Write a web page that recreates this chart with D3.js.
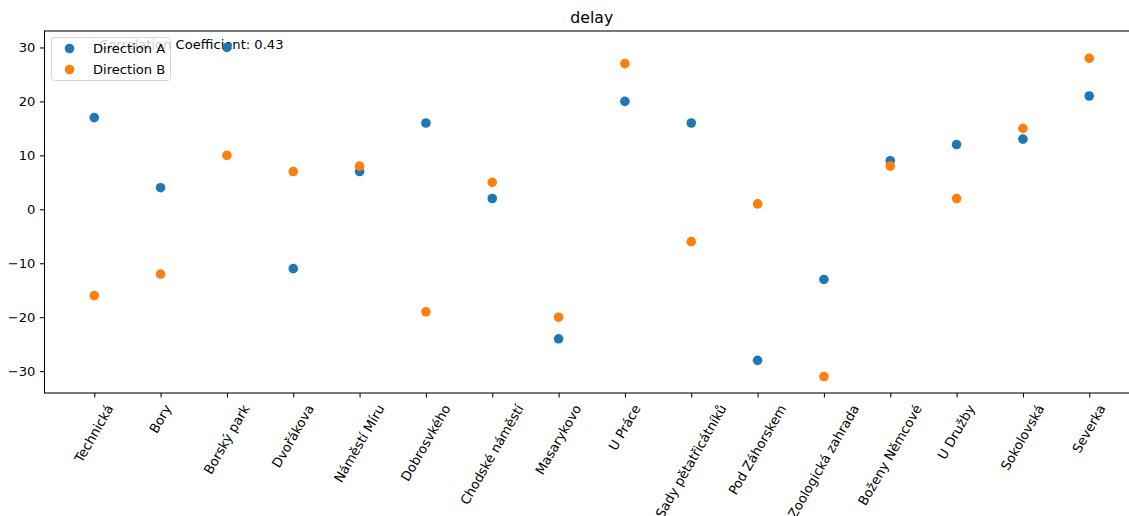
<!DOCTYPE html>
<html>
<head>
<meta charset="utf-8">
<script src="https://cdn.jsdelivr.net/npm/d3@7"></script>
<style>
  html, body { margin: 0; padding: 0; background: #fff; }
  svg { display: block; font-family: "DejaVu Sans", sans-serif; }
</style>
</head>
<body>
<svg id="chart" width="1129" height="516"></svg>
<script>
// Stops along the line
const stops = ["Technická", "Bory", "Borský park", "Dvořákova", "Náměstí Míru", "Dobrosvkého",
  "Chodské náměstí", "Masarykovo", "U Práce", "Sady pětatřicátníků", "Pod Záhorskem",
  "Zoologická zahrada", "Boženy Němcové", "U Družby", "Sokolovská", "Severka"];

// Delay per stop for each direction
const delayA = [17, 4, 30, -11, 7, 16, 2, -24, 20, 16, -28, -13, 9, 12, 13, 21];
const delayB = [-16, -12, 10, 7, 8, -19, 5, -20, 27, -6, 1, -31, 8, 2, 15, 28];

const yTicks = [-30, -20, -10, 0, 10, 20, 30];
const correlation = 0.43;

const series = [
  { name: "Direction A", values: delayA, color: "#1f77b4" },
  { name: "Direction B", values: delayB, color: "#ff7f0e" }
];

const svg = d3.select("#chart");
const plot = { left: 44.5, right: 1139, top: 31, bottom: 393 };

// 5% margins around the data, as in the usual autoscaling
const allVals = delayA.concat(delayB);
const yMin = d3.min(allVals), yMax = d3.max(allVals);
const yPad = (yMax - yMin) * 0.05;
const xPad = (stops.length - 1) * 0.05;

const x = d3.scaleLinear().domain([-xPad, stops.length - 1 + xPad]).range([plot.left, plot.right]);
const y = d3.scaleLinear().domain([yMin - yPad, yMax + yPad]).range([plot.bottom, plot.top]);

const fontSize = 13.1;
const tickLen = 4.6;

// Y axis
const yAxis = svg.append("g")
  .attr("transform", `translate(${plot.left},0)`)
  .call(d3.axisLeft(y).tickValues(yTicks).tickSize(tickLen).tickPadding(4.6)
    .tickFormat(d => d < 0 ? "\u2212" + Math.abs(d) : d));
yAxis.select(".domain").remove();
yAxis.selectAll("line").attr("stroke", "#000").attr("stroke-width", 1.05);
yAxis.selectAll("text").attr("font-size", fontSize).attr("fill", "#000")
  .attr("font-family", "DejaVu Sans");

// X axis ticks
const xAxis = svg.append("g")
  .attr("transform", `translate(0,${plot.bottom})`)
  .call(d3.axisBottom(x).tickValues(d3.range(stops.length)).tickSize(tickLen).tickFormat(""));
xAxis.select(".domain").remove();
xAxis.selectAll("line").attr("stroke", "#000").attr("stroke-width", 1.05);

// Rotated stop names, bounding box centred under each tick
const labelTop = plot.bottom + tickLen + 4.6;
const ang = 60 * Math.PI / 180;
const labels = svg.append("g").selectAll("text").data(stops).join("text")
  .attr("font-size", fontSize)
  .attr("fill", "#000")
  .attr("text-anchor", "middle")
  .attr("dy", "0.32em")
  .text(d => d);
labels.each(function(d, i) {
  const L = this.getComputedTextLength();
  const h = fontSize * 1.16;
  const cy = labelTop + (L * Math.sin(ang) + h * Math.cos(ang)) / 2;
  d3.select(this).attr("transform", `translate(${x(i)},${cy}) rotate(-60)`);
});

// Plot frame
svg.append("rect")
  .attr("x", plot.left).attr("y", plot.top)
  .attr("width", plot.right - plot.left).attr("height", plot.bottom - plot.top)
  .attr("fill", "none").attr("stroke", "#000").attr("stroke-width", 1.05);

// Title
svg.append("text")
  .attr("x", (plot.left + plot.right) / 2).attr("y", plot.top - 8)
  .attr("text-anchor", "middle").attr("font-size", 15.7).attr("fill", "#000")
  .text("delay");

// Correlation annotation
svg.append("text")
  .attr("x", plot.left + 0.05 * (plot.right - plot.left))
  .attr("y", plot.top + 0.05 * (plot.bottom - plot.top))
  .attr("font-size", fontSize).attr("fill", "#000")
  .text(`Correlation Coefficient: ${correlation}`);

// Scatter points
series.forEach(s => {
  svg.append("g").selectAll("circle").data(s.values).join("circle")
    .attr("cx", (d, i) => x(i))
    .attr("cy", d => y(d))
    .attr("r", 4.8)
    .attr("fill", s.color);
});

// Legend
const lg = svg.append("g").attr("transform", `translate(${plot.left + 7},${plot.top + 6.5})`);
lg.append("rect")
  .attr("x", 0).attr("y", 0).attr("width", 119).attr("height", 43)
  .attr("rx", 3).attr("ry", 3)
  .attr("fill", "#fff").attr("fill-opacity", 0.8)
  .attr("stroke", "#cccccc").attr("stroke-opacity", 0.8).attr("stroke-width", 1);
series.forEach((s, i) => {
  const cy = 11 + i * 21;
  lg.append("circle").attr("cx", 18).attr("cy", cy).attr("r", 4.8).attr("fill", s.color);
  lg.append("text").attr("x", 41.5).attr("y", cy).attr("dy", "0.36em")
    .attr("font-size", fontSize).attr("fill", "#000").text(s.name);
});
</script>
</body>
</html>
